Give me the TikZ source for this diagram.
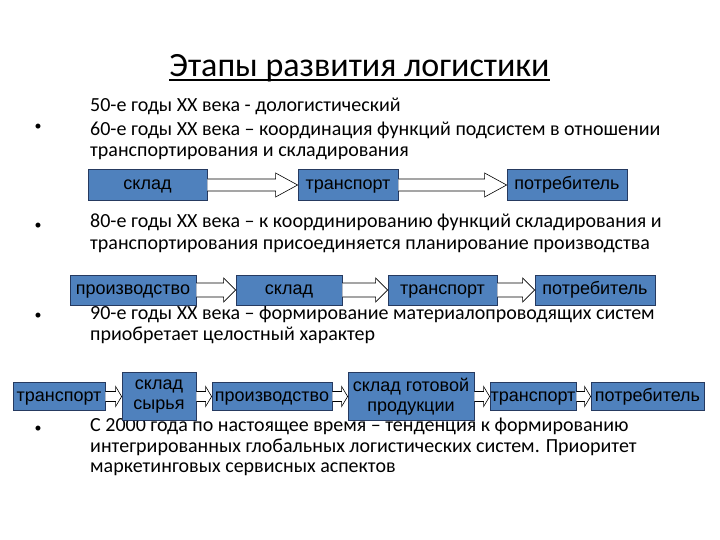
\documentclass[tikz,border=0pt]{standalone}
\usepackage{fontspec}
\setmainfont{Carlito}
\newfontfamily\boxfont{Liberation Sans}
\usetikzlibrary{calc}
\definecolor{boxblue}{RGB}{79,129,189}
\definecolor{boxedge}{RGB}{38,58,96}

% hollow block arrow from one stage box to the next
\newcommand{\blockarrow}[5]{%
  \draw[flow] ($(#1.east)+(0,-#3)$) -- ($(#2.west)+(-#5,-#3)$) -- ($(#2.west)+(-#5,-#4)$)
    -- (#2.west) -- ($(#2.west)+(-#5,#4)$) -- ($(#2.west)+(-#5,#3)$) -- ($(#1.east)+(0,#3)$);}

\begin{document}
\begin{tikzpicture}[x=1pt, y=-1pt,
  stagebox/.style={draw=boxedge, fill=boxblue, line width=0.8pt, inner sep=0pt, align=center,
    font=\boxfont\fontsize{18}{20}\selectfont},
  stage/.style={stagebox, text height=9.5pt, text depth=0pt},
  txtline/.style={anchor=base west, inner sep=0pt, font=\fontsize{20}{22}\selectfont},
  bull/.style={inner sep=0pt, font=\fontsize{14}{14}\selectfont},
  flow/.style={draw=black, fill=white, line width=0.6pt}
]
  \useasboundingbox (0,0) rectangle (720,540);

  \node[anchor=base, inner sep=0pt, font=\fontsize{34}{36}\selectfont] (title) at (359.5,77) {Этапы развития логистики};
  \draw[line width=1.5pt] ($(title.base west)+(0,3)$) -- ($(title.base east)+(0,3)$);

  % stage texts
  \node[txtline] (l1) at (90,112) {50-е годы ХХ века - дологистический};
  \node[txtline] (l2) at (90,136) {60-е годы ХХ века – координация функций подсистем в отношении};
  \node[txtline] (l3) at (90,157) {транспортирования и складирования};
  \node[txtline] (l4) at (90,228) {80-е годы ХХ века – к координированию функций складирования и};
  \node[txtline] (l5) at (90,249) {транспортирования присоединяется планирование производства};
  \node[txtline] (l6) at (90,319) {90-е годы ХХ века – формирование материалопроводящих систем};
  \node[txtline] (l7) at (90,340) {приобретает целостный характер};
  \node[txtline] (l8) at (90,431) {С 2000 года по настоящее время – тенденция к формированию};
  \node[txtline] (l9) at (90,452) {интегрированных глобальных логистических систем. Приоритет};
  \node[txtline] (l10) at (90,472) {маркетинговых сервисных аспектов};

  \node[bull] (b1) at (38,127) {•};
  \node[bull] (b2) at (38,226) {•};
  \node[bull] (b3) at (38,316) {•};
  \node[bull] (b4) at (38,429) {•};

  % 60-e
  \node[stage, minimum width=119pt, minimum height=31pt] (sklad1) at (147.5,185) {склад};
  \node[stage, minimum width=100pt, minimum height=31pt] (trans1) at (348,185) {транспорт};
  \node[stage, minimum width=120pt, minimum height=31pt] (potr1) at (567,185) {потребитель};
  \blockarrow{sklad1}{trans1}{6}{12}{22}
  \blockarrow{trans1}{potr1}{6}{12}{22}

  % 80-e
  \node[stage, minimum width=126pt, minimum height=30pt] (proizv2) at (133,290) {производство};
  \node[stage, minimum width=106pt, minimum height=30pt] (sklad2) at (289,290) {склад};
  \node[stage, minimum width=109pt, minimum height=30pt] (trans2) at (442.5,290) {транспорт};
  \node[stage, minimum width=120pt, minimum height=30pt] (potr2) at (595,290) {потребитель};
  \blockarrow{proizv2}{sklad2}{7}{12}{12}
  \blockarrow{sklad2}{trans2}{7}{12}{12}
  \blockarrow{trans2}{potr2}{7}{12}{12}

  % 90-e
  \node[stage, minimum width=92pt, minimum height=28pt] (trans3) at (59,396.5) {транспорт};
  \node[stagebox, minimum width=74pt, minimum height=48pt] (syr3) at (159,396.5) {склад\\сырья};
  \node[stage, minimum width=120pt, minimum height=28pt] (proizv3) at (272,396.5) {производство};
  \node[stagebox, minimum width=126pt, minimum height=48pt] (gotov3) at (411,396.5) {склад готовой\\продукции};
  \node[stage, minimum width=86pt, minimum height=28pt] (trans4) at (533,396.5) {транспорт};
  \node[stage, minimum width=113pt, minimum height=28pt] (potr3) at (647.5,396.5) {потребитель};
  \blockarrow{trans3}{syr3}{5}{10}{6}
  \blockarrow{syr3}{proizv3}{5}{10}{6}
  \blockarrow{proizv3}{gotov3}{5}{10}{6}
  \blockarrow{gotov3}{trans4}{5}{10}{6}
  \blockarrow{trans4}{potr3}{5}{10}{6}
\end{tikzpicture}
\end{document}
